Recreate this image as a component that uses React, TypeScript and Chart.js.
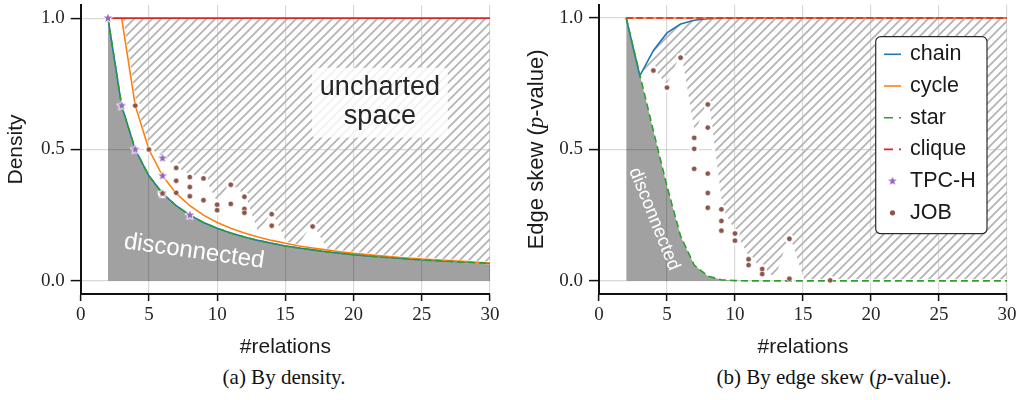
import React, { useEffect, useRef } from 'react';
import { Chart, registerables } from 'chart.js';

Chart.register(...registerables);

// ---------------- data ----------------
const relations = [2, 3, 4, 5, 6, 7, 8, 9, 10, 11, 12, 13, 14, 15, 16, 17, 18, 19, 20, 21, 22, 23, 24, 25, 26, 27, 28, 29, 30];

// (a) density
const chainDensity = [1.0, 0.667, 0.5, 0.4, 0.333, 0.286, 0.25, 0.222, 0.2, 0.182, 0.167, 0.154, 0.143, 0.133, 0.125, 0.118, 0.111, 0.105, 0.1, 0.095, 0.091, 0.087, 0.083, 0.08, 0.077, 0.074, 0.071, 0.069, 0.067];
const cycleDensity = [null, 1.0, 0.667, 0.5, 0.4, 0.333, 0.286, 0.25, 0.222, 0.2, 0.182, 0.167, 0.154, 0.143, 0.133, 0.125, 0.118, 0.111, 0.105, 0.1, 0.095, 0.091, 0.087, 0.083, 0.08, 0.077, 0.074, 0.071, 0.069];
const starDensity = [1.0, 0.667, 0.5, 0.4, 0.333, 0.286, 0.25, 0.222, 0.2, 0.182, 0.167, 0.154, 0.143, 0.133, 0.125, 0.118, 0.111, 0.105, 0.1, 0.095, 0.091, 0.087, 0.083, 0.08, 0.077, 0.074, 0.071, 0.069, 0.067];
const cliqueDensity = [1, 1, 1, 1, 1, 1, 1, 1, 1, 1, 1, 1, 1, 1, 1, 1, 1, 1, 1, 1, 1, 1, 1, 1, 1, 1, 1, 1, 1];
const tpchDensityX = [2, 3, 4, 6, 6, 6, 8];
const tpchDensityY = [1.0, 0.667, 0.5, 0.467, 0.4, 0.333, 0.25];
const jobDensityX = [4, 5, 6, 7, 7, 7, 8, 8, 8, 9, 9, 10, 10, 11, 11, 12, 12, 12, 14, 14, 17];
const jobDensityY = [0.667, 0.5, 0.333, 0.43, 0.381, 0.335, 0.395, 0.357, 0.322, 0.39, 0.307, 0.29, 0.269, 0.366, 0.293, 0.32, 0.274, 0.259, 0.254, 0.21, 0.207];

// (b) edge skew
const chainSkew = [1.0, 0.78, 0.876, 0.943, 0.977, 0.991, 0.997, 0.999, 1, 1, 1, 1, 1, 1, 1, 1, 1, 1, 1, 1, 1, 1, 1, 1, 1, 1, 1, 1, 1];
const cycleSkew = [1, 1, 1, 1, 1, 1, 1, 1, 1, 1, 1, 1, 1, 1, 1, 1, 1, 1, 1, 1, 1, 1, 1, 1, 1, 1, 1, 1, 1];
const starSkew = [1.0, 0.785, 0.57, 0.36, 0.17, 0.06, 0.018, 0.004, 0.001, 0, 0, 0, 0, 0, 0, 0, 0, 0, 0, 0, 0, 0, 0, 0, 0, 0, 0, 0, 0];
const cliqueSkew = [1, 1, 1, 1, 1, 1, 1, 1, 1, 1, 1, 1, 1, 1, 1, 1, 1, 1, 1, 1, 1, 1, 1, 1, 1, 1, 1, 1, 1];
const jobSkewX = [4, 5, 6, 7, 7, 7, 8, 8, 8, 8, 8, 9, 9, 9, 10, 10, 11, 11, 12, 12, 14, 14, 17];
const jobSkewY = [0.8, 0.735, 0.849, 0.544, 0.502, 0.426, 0.671, 0.583, 0.408, 0.334, 0.278, 0.272, 0.228, 0.191, 0.18, 0.153, 0.082, 0.06, 0.045, 0.026, 0.16, 0.008, 0.002];

const xTickValues = [0, 5, 10, 15, 20, 25, 30];
const yTickValues = [0, 0.5, 1.0];

const legendItems = [
  { label: 'chain', kind: 'line', color: '#1f77b4' },
  { label: 'cycle', kind: 'line', color: '#ff7f0e' },
  { label: 'star', kind: 'dash', color: '#2ca02c' },
  { label: 'clique', kind: 'dash', color: '#d62728' },
  { label: 'TPC-H', kind: 'star', color: '#9467bd' },
  { label: 'JOB', kind: 'dot', color: '#8c564b' },
];

// ---------------- styles ----------------
const C = { chain: '#1f77b4', cycle: '#ff7f0e', star: '#2ca02c', clique: '#d62728', tpch: '#9467bd', job: '#8c564b' };
const SANS = '"Liberation Sans", Arial, sans-serif';
const SERIF = '"Liberation Serif", "Times New Roman", serif';
const GRID = 'rgba(0,0,0,0.15)';
const GRAY = 'rgba(0,0,0,0.37)';

function pts(xs: number[], ys: (number | null)[]) {
  const out: { x: number; y: number }[] = [];
  xs.forEach((x, i) => {
    const y = ys[i];
    if (y != null) out.push({ x, y });
  });
  return out;
}

// upper edge of the observed ("charted") space: per-relation maximum of the observations
function chartedBound(lower: (number | null)[], obsX: number[], obsY: number[]) {
  const best = new Map<number, number>();
  obsX.forEach((x, i) => {
    const v = obsY[i];
    if (!best.has(x) || (best.get(x) as number) < v) best.set(x, v);
  });
  return relations.map((x, i) => {
    const l = lower[i];
    if (l == null) return null;
    const m = best.get(x);
    return m != null && m > l ? m : l;
  });
}

function makeHatch() {
  const s = 9;
  const c = document.createElement('canvas');
  c.width = s;
  c.height = s;
  const ctx = c.getContext('2d') as CanvasRenderingContext2D;
  ctx.strokeStyle = '#b4b4b4';
  ctx.lineWidth = 1.8;
  ctx.beginPath();
  ctx.moveTo(0, s);
  ctx.lineTo(s, 0);
  ctx.moveTo(-s / 2, s / 2);
  ctx.lineTo(s / 2, -s / 2);
  ctx.moveTo(s / 2, s * 1.5);
  ctx.lineTo(s * 1.5, s / 2);
  ctx.stroke();
  return ctx.createPattern(c, 'repeat') as CanvasPattern;
}

function makeStar(r: number) {
  const size = Math.ceil(2 * r + 5);
  const c = document.createElement('canvas');
  c.width = size;
  c.height = size;
  const ctx = c.getContext('2d') as CanvasRenderingContext2D;
  ctx.translate(size / 2, size / 2);
  ctx.beginPath();
  for (let i = 0; i < 10; i++) {
    const a = -Math.PI / 2 + (i * Math.PI) / 5;
    const rr = i % 2 === 0 ? r : r * 0.42;
    ctx.lineTo(rr * Math.cos(a), rr * Math.sin(a));
  }
  ctx.closePath();
  ctx.lineJoin = 'round';
  ctx.strokeStyle = '#ffffff';
  ctx.lineWidth = 1.8;
  ctx.stroke();
  ctx.fillStyle = C.tpch;
  ctx.fill();
  return c;
}

function rr(ctx: CanvasRenderingContext2D, x: number, y: number, w: number, h: number, r: number) {
  ctx.beginPath();
  ctx.moveTo(x + r, y);
  ctx.lineTo(x + w - r, y);
  ctx.arcTo(x + w, y, x + w, y + r, r);
  ctx.lineTo(x + w, y + h - r);
  ctx.arcTo(x + w, y + h, x + w - r, y + h, r);
  ctx.lineTo(x + r, y + h);
  ctx.arcTo(x, y + h, x, y + h - r, r);
  ctx.lineTo(x, y + r);
  ctx.arcTo(x, y, x + r, y, r);
  ctx.closePath();
}

function scales(yWidth: number, yTitle: string | null) {
  return {
    x: {
      type: 'linear',
      min: 0,
      max: 30,
      afterBuildTicks: (s: any) => {
        s.ticks = xTickValues.map((v) => ({ value: v }));
      },
      afterFit: (s: any) => {
        s.height = 66;
        s.paddingLeft = 0;
        s.paddingRight = 0;
      },
      grid: { color: GRID, lineWidth: 1.2, drawTicks: true, tickLength: 7, tickWidth: 1.5, tickColor: '#111' },
      border: { display: true, color: '#111', width: 2 },
      ticks: {
        autoSkip: false,
        maxRotation: 0,
        padding: 3,
        color: '#262626',
        font: { family: SERIF, size: 19 },
        callback: (v: any) => String(v),
      },
      title: {
        display: true,
        text: '#relations',
        color: '#1a1a1a',
        font: { family: SANS, size: 21 },
        padding: { top: 0, bottom: 0 },
      },
    },
    y: {
      type: 'linear',
      min: -0.05,
      max: 1.05,
      afterBuildTicks: (s: any) => {
        s.ticks = yTickValues.map((v) => ({ value: v }));
      },
      afterFit: (s: any) => {
        s.width = yWidth;
        s.paddingTop = 0;
        s.paddingBottom = 0;
      },
      grid: { color: GRID, lineWidth: 1.2, drawTicks: true, tickLength: 10, tickWidth: 1.5, tickColor: '#111' },
      border: { display: true, color: '#111', width: 2 },
      ticks: {
        padding: 6,
        color: '#262626',
        font: { family: SERIF, size: 19 },
        callback: (v: any) => Number(v).toFixed(1),
      },
      title: {
        display: yTitle != null,
        text: yTitle || '',
        color: '#1a1a1a',
        font: { family: SANS, size: 21 },
        padding: { top: 4, bottom: 4 },
      },
    },
  };
}

function line(label: string, xs: number[], ys: (number | null)[], color: string, dash: number[], order: number) {
  return {
    label,
    data: pts(xs, ys),
    borderColor: color,
    borderWidth: 1.6,
    borderDash: dash,
    pointRadius: 0,
    fill: false,
    order,
  };
}

function leftConfig(hatch: CanvasPattern, starImg: HTMLCanvasElement) {
  const bound = chartedBound(cycleDensity, [...jobDensityX, ...tpchDensityX], [...jobDensityY, ...tpchDensityY]);
  const decor = {
    id: 'leftDecor',
    afterDatasetsDraw(chart: any) {
      const { ctx } = chart;
      const x = chart.scales.x;
      const y = chart.scales.y;
      ctx.save();
      const cx = x.getPixelForValue(21.93);
      const cy = y.getPixelForValue(0.678);
      rr(ctx, cx - 68, cy - 35, 136, 70, 4);
      ctx.fillStyle = 'rgba(255,255,255,0.82)';
      ctx.fill();
      ctx.fillStyle = '#262626';
      ctx.font = `27px ${SANS}`;
      ctx.textAlign = 'center';
      ctx.textBaseline = 'middle';
      ctx.fillText('uncharted', cx, cy - 15);
      ctx.fillText('space', cx, cy + 14);
      const dx = x.getPixelForValue(8.31);
      const dy = y.getPixelForValue(0.112);
      ctx.translate(dx, dy);
      ctx.rotate((8 * Math.PI) / 180);
      ctx.fillStyle = '#ffffff';
      ctx.font = `24px ${SANS}`;
      ctx.fillText('disconnected', 0, 0);
      ctx.restore();
    },
  };
  return {
    type: 'line',
    data: {
      datasets: [
        { label: 'disconnected', data: pts(relations, chainDensity), borderColor: 'rgba(0,0,0,0)', borderWidth: 0, pointRadius: 0, fill: { value: 0 }, backgroundColor: GRAY, order: 10 },
        { label: 'uncharted', data: pts(relations, bound), borderColor: '#ffffff', borderWidth: 3, pointRadius: 0, fill: { value: 1 }, backgroundColor: hatch, order: 9 },
        { label: 'halo', data: pts(jobDensityX, jobDensityY), showLine: false, pointRadius: 4.8, pointBackgroundColor: '#ffffff', pointBorderWidth: 0, order: 8 },
        line('chain', relations, chainDensity, C.chain, [], 7),
        line('cycle', relations, cycleDensity, C.cycle, [], 6),
        line('star', relations, starDensity, C.star, [7, 4], 5),
        line('clique', relations, cliqueDensity, C.clique, [], 4),
        { label: 'TPC-H', data: pts(tpchDensityX, tpchDensityY), showLine: false, pointRadius: 4, pointStyle: starImg, order: 3 },
        { label: 'JOB', data: pts(jobDensityX, jobDensityY), showLine: false, pointRadius: 2.7, pointBackgroundColor: C.job, pointBorderColor: '#ffffff', pointBorderWidth: 0.6, order: 2 },
      ],
    },
    options: {
      animation: false,
      responsive: false,
      maintainAspectRatio: false,
      devicePixelRatio: 1,
      events: [],
      layout: { padding: { left: 0, right: 25, top: 3.8, bottom: 0 } },
      plugins: { legend: { display: false }, tooltip: { enabled: false } },
      scales: scales(80.7, 'Density'),
    },
    plugins: [decor],
  };
}

function rightConfig(hatch: CanvasPattern, starImg: HTMLCanvasElement) {
  const bound = chartedBound(starSkew, jobSkewX, jobSkewY);
  const decor = {
    id: 'rightDecor',
    afterDatasetsDraw(chart: any) {
      const { ctx } = chart;
      const x = chart.scales.x;
      const y = chart.scales.y;
      ctx.save();
      ctx.translate(x.getPixelForValue(4.06), y.getPixelForValue(0.235));
      ctx.rotate((68 * Math.PI) / 180);
      ctx.fillStyle = '#ffffff';
      ctx.font = `18.5px ${SANS}`;
      ctx.textAlign = 'center';
      ctx.textBaseline = 'middle';
      ctx.fillText('disconnected', 0, 0);
      ctx.restore();
    },
    afterDraw(chart: any) {
      const { ctx, chartArea: ca } = chart;
      // y axis title with italic p
      const parts = [
        { t: 'Edge skew (', f: `22px ${SANS}` },
        { t: 'p', f: `italic 23px ${SERIF}` },
        { t: '-value)', f: `22px ${SANS}` },
      ];
      ctx.save();
      let total = 0;
      const widths = parts.map((p) => {
        ctx.font = p.f;
        const w = ctx.measureText(p.t).width;
        total += w;
        return w;
      });
      ctx.translate(22, (ca.top + ca.bottom) / 2);
      ctx.rotate(-Math.PI / 2);
      ctx.fillStyle = '#1a1a1a';
      ctx.textBaseline = 'middle';
      ctx.textAlign = 'left';
      let px = -total / 2;
      parts.forEach((p, i) => {
        ctx.font = p.f;
        ctx.fillText(p.t, px, 0);
        px += widths[i];
      });
      ctx.restore();

      // legend
      const w = 111.3;
      const h = 197;
      const x0 = ca.right - 20 - w;
      const y0 = ca.top + 31.9;
      ctx.save();
      rr(ctx, x0, y0, w, h, 5);
      ctx.fillStyle = '#ffffff';
      ctx.fill();
      ctx.lineWidth = 1.2;
      ctx.strokeStyle = '#2b2b2b';
      ctx.stroke();
      legendItems.forEach((it, i) => {
        const cy = y0 + 17.6 + i * 31.7;
        if (it.kind === 'line' || it.kind === 'dash') {
          ctx.beginPath();
          ctx.setLineDash(it.kind === 'dash' ? [9, 6] : []);
          ctx.moveTo(x0 + 8.3, cy);
          ctx.lineTo(x0 + 25.3, cy);
          ctx.strokeStyle = it.color;
          ctx.lineWidth = 1.6;
          ctx.stroke();
          ctx.setLineDash([]);
        } else if (it.kind === 'star') {
          ctx.drawImage(starImg, x0 + 16.8 - starImg.width / 2, cy - starImg.height / 2);
        } else {
          ctx.beginPath();
          ctx.arc(x0 + 16.8, cy, 2.6, 0, Math.PI * 2);
          ctx.fillStyle = it.color;
          ctx.fill();
        }
        ctx.fillStyle = '#1a1a1a';
        ctx.font = `21.5px ${SANS}`;
        ctx.textBaseline = 'middle';
        ctx.textAlign = 'left';
        ctx.fillText(it.label, x0 + 34.3, cy);
      });
      ctx.restore();
    },
  };
  return {
    type: 'line',
    data: {
      datasets: [
        line('chain', relations, chainSkew, C.chain, [], 5),
        { label: 'uncharted', data: pts(relations, bound), borderColor: '#ffffff', borderWidth: 3, pointRadius: 0, fill: 0, backgroundColor: hatch, order: 9 },
        { label: 'disconnected', data: pts(relations, starSkew), borderColor: 'rgba(0,0,0,0)', borderWidth: 0, pointRadius: 0, fill: { value: 0 }, backgroundColor: GRAY, order: 8 },
        { label: 'halo', data: pts(jobSkewX, jobSkewY), showLine: false, pointRadius: 4.8, pointBackgroundColor: '#ffffff', pointBorderWidth: 0, order: 7 },
        line('cycle', relations, cycleSkew, C.cycle, [], 4),
        line('star', relations, starSkew, C.star, [7, 4], 3),
        line('clique', relations, cliqueSkew, C.clique, [7, 3], 2),
        { label: 'JOB', data: pts(jobSkewX, jobSkewY), showLine: false, pointRadius: 2.7, pointBackgroundColor: C.job, pointBorderColor: '#ffffff', pointBorderWidth: 0.6, order: 1 },
      ],
    },
    options: {
      animation: false,
      responsive: false,
      maintainAspectRatio: false,
      devicePixelRatio: 1,
      events: [],
      layout: { padding: { left: 0, right: 20, top: 3.8, bottom: 0 } },
      plugins: { legend: { display: false }, tooltip: { enabled: false } },
      scales: scales(84, null),
    },
    plugins: [decor],
  };
}

const captionStyle = (cx: number): React.CSSProperties => ({
  position: 'absolute',
  left: cx - 300,
  top: 364,
  width: 600,
  textAlign: 'center',
  fontFamily: SERIF,
  fontSize: 21,
  lineHeight: '26px',
  color: '#111',
  whiteSpace: 'nowrap',
});

export default function App() {
  const leftRef = useRef<HTMLCanvasElement>(null);
  const rightRef = useRef<HTMLCanvasElement>(null);
  useEffect(() => {
    const hatch = makeHatch();
    const starImg = makeStar(4.5);
    const left = new Chart(leftRef.current as HTMLCanvasElement, leftConfig(hatch, starImg) as any);
    const right = new Chart(rightRef.current as HTMLCanvasElement, rightConfig(hatch, starImg) as any);
    return () => {
      left.destroy();
      right.destroy();
    };
  }, []);
  return (
    <div style={{ position: 'absolute', left: 0, top: 0, width: 1027, height: 400, background: '#ffffff', overflow: 'hidden' }}>
      <canvas ref={leftRef} width={515} height={360} style={{ position: 'absolute', left: 0, top: 0, width: 515, height: 360 }} />
      <canvas ref={rightRef} width={512} height={360} style={{ position: 'absolute', left: 515, top: 0, width: 512, height: 360 }} />
      <div style={captionStyle(284)}>(a) By density.</div>
      <div style={captionStyle(834)}>
        (b) By edge skew (<i>p</i>-value).
      </div>
    </div>
  );
}
